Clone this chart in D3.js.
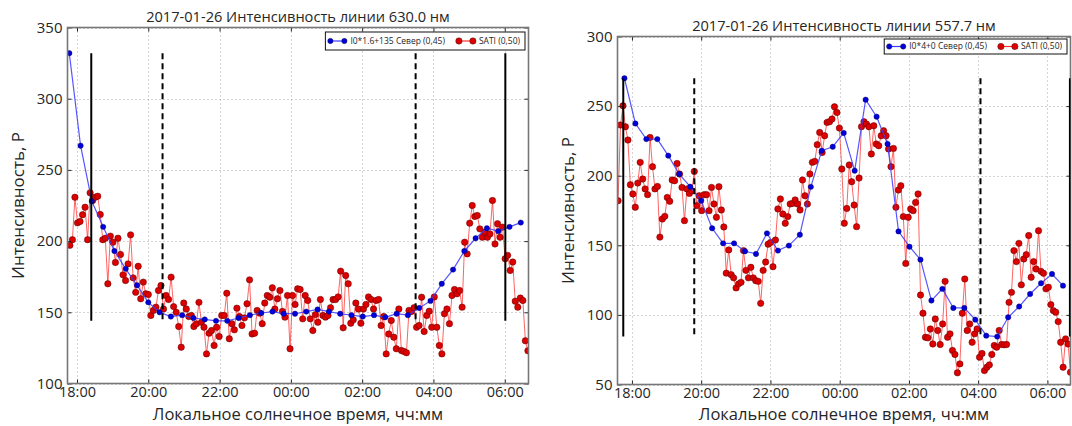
<!DOCTYPE html>
<html>
<head>
<meta charset="utf-8">
<script src="https://cdn.jsdelivr.net/npm/d3@7"></script>
<style>
  body { margin: 0; background: #fff; }
  svg { display: block; }
  text { font-family: "Open Sans", sans-serif; fill: #262626; }
</style>
</head>
<body>
<svg id="chart" width="1072" height="426"></svg>
<script>
// ---- data ----------------------------------------------------------
const chartDate = "2017-01-26";
const xTickLabels = ["18:00", "20:00", "22:00", "00:00", "02:00", "04:00", "06:00"];
const yTicks630 = [100, 150, 200, 250, 300, 350];
const yTicks557 = [50, 100, 150, 200, 250, 300];

// camera (north, zenith 0,45) samples: first time and cadence in minutes
const cameraStart = "17:47";
const cameraStepMin = 19;
const camera630 = [332, 267, 228, 210, 193, 180.5, 169, 157, 150, 147, 148, 146, 145, 144, 144,
  146, 148, 149.5, 150.5, 149, 149, 150.5, 152, 150.5, 149, 148, 147, 148, 146.5, 149, 148,
  153, 158, 170, 180, 193, 202, 209, 207, 210, 213];
const camera557 = [270, 237.5, 226.3, 226.3, 214.4, 201.2, 192.1, 182, 162.2, 151.4, 151.4,
  145.7, 143.8, 158.6, 146.2, 149.8, 157.6, 192, 218, 220.8, 230.7, 203.6, 254.6, 242.4,
  222.8, 160, 149, 139.7, 110.3, 118.7, 105, 105, 96.6, 85.1, 84.4, 98.3, 106, 115, 122.7,
  129.4, 121];

// SATI (0,50) samples, evenly spaced between first and last time
const sati630First = "17:48", sati630Last = "06:39";
const sati630 = [197, 201, 230.8, 212.8, 213.8, 218.5, 223.8, 201, 233.9, 228.5,
  230.8, 231.5, 218.7, 201, 202, 170, 203.5, 199.2, 185, 202,
  190.6, 176.3, 172.3, 184, 204.4, 174.2, 164, 182.3, 159.5, 171.2,
  163, 162.5, 147.8, 151.3, 153.6, 165.3, 168.8, 152.3, 161.8, 159,
  174.7, 154, 150, 140, 125.5, 156.5, 152.3, 147, 147.8, 140,
  141.9, 157, 143, 139.5, 120.8, 135.3, 137.2, 126.7, 139.5, 133,
  147.8, 147.8, 163.4, 131.4, 142, 137.7, 152.9, 147, 140.7, 146.1,
  156, 172.8, 134.8, 135.3, 151.3, 149.4, 142, 156.5, 161.8, 160.6,
  167.2, 152.3, 159.5, 165.3, 150.6, 146.6, 161.8, 124.4, 161.8, 155.5,
  166.5,
  166, 145.4, 161.8, 158.3, 145.4, 137.2, 148.4, 143, 159, 147.8,
  146.6, 147.8, 153.2, 159, 159, 160.8, 178.9, 139.1, 175.8, 170,
  142.3, 144.7, 156.5, 152.3, 142.3, 152.3, 155.5, 160.8, 159, 152.3,
  158.3, 159, 140.7, 147, 120.8, 134.8, 144.2, 132.5, 124.4, 152.3,
  123.2, 122.5, 121.6, 151.3, 150.6, 153.2, 139.5, 140.7, 160.6, 136.5,
  147.8, 150.8, 139.5, 160.8, 139.5, 126.7, 120.8, 149, 152.3, 142,
  161.8, 166, 163, 165.3, 153.6, 199.2, 191, 212.6, 225, 217.3,
  218, 208.6, 202.7, 206.2, 202.7, 205, 228.5, 198, 212.2, 202.7,
  209.8, 187.6, 190, 179.4, 185.3, 157.8, 153.6, 160, 158.3, 130,
  123];

const sati557First = "17:36", sati557Last = "06:40";
const sati557 = [182, 236.4, 250.2, 235.2, 225.6, 193.5, 186.9, 177.3, 194.7, 209.6,
  197.6, 190.5, 186.4, 227.5, 206.5, 190.5, 192.3, 155.9, 168.9, 170.8,
  184.4, 181.6, 196.9, 196.4, 208.8, 201.2, 191.6, 167.7, 190.5, 187.3,
  189.2, 203.1, 178.5, 185.6, 174.9, 186.4, 186.4, 174.9, 191.6, 179.7,
  170.1, 192.1, 175.4, 163.2, 130, 146.7, 128.9, 126.6, 119.4, 122.3,
  123.4, 146.2, 132, 126.6, 134.2, 126.6, 124.6, 124.1, 108.3, 132,
  138, 150.8, 152, 134.6, 153.8, 176.1, 183.3, 172.5, 165.8, 170.6,
  179.7, 180.1, 182.6, 179.7, 175.4, 196.9, 185.6, 179.7, 201.2, 209.6,
  210.3, 222.3, 231.1, 216.7, 228.7, 238.3, 238.8, 240.7, 249.5, 245.4,
  234.2, 204.8, 165.8, 176.5, 207.7, 195.7, 178.9, 163.4, 198.3, 235.2,
  238.8, 237.1, 235.2, 215.6, 235.9, 222.8, 221.5, 228.7, 232.3, 228.7,
  219.2, 206.5, 219.6, 177.3, 189.7, 192.8, 170.6, 137, 170.1, 176.1,
  174.9, 180.8, 186.9, 114.3, 101.2, 83.9, 83.5, 89.9, 79.1, 97.1,
  88.8, 78.7, 93.5, 124.1, 83.9, 86.4, 74.4, 71.6, 58.4, 64.8,
  101.2, 125.8, 88.8, 93.5, 80.3, 86.4, 89.9, 69.6, 72.3, 60,
  62.4, 64.1, 71.6, 78, 76.8, 88.8, 78.7, 78.5, 78.7, 109,
  116.2, 146.2, 138.3, 151.4, 121.6, 140.2, 143.3, 157, 127, 138.3,
  133, 160.5, 131.3, 129.9, 118.7, 119.9, 107.4, 103.1, 101.9, 95.2,
  80.3, 62.4, 82.8, 79.1, 58.8];

// twilight markers: solid = sunset/sunrise, dashed = end/start of astronomical twilight
const solid630 = ["18:24", "06:01"], dashed630 = ["20:24", "03:30"];
const solid557 = ["17:45", "06:39"], dashed557 = ["19:48", "04:04"];

// ---- helpers -------------------------------------------------------
const [yy, mm, dd] = chartDate.split("-").map(Number);
function clock(s) {
  const [h, m] = s.split(":").map(Number);
  // evening hours belong to the chart date, morning hours to the next day
  return new Date(yy, mm - 1, h < 12 ? dd + 1 : dd, h, m);
}
function evenTimes(first, last, n) {
  const a = +clock(first), b = +clock(last);
  return d3.range(n).map(i => new Date(a + (b - a) * i / (n - 1)));
}
function stepTimes(first, stepMin, n) {
  const a = +clock(first);
  return d3.range(n).map(i => new Date(a + i * stepMin * 60000));
}

const panels = [
  {
    title: chartDate + " Интенсивность линии 630.0 нм",
    cameraLabel: "I0*1.6+135 Север (0,45)",
    camera: camera630, sati: sati630, satiFirst: sati630First, satiLast: sati630Last,
    xFrom: "17:44", xTo: "06:40", yDomain: [100, 350], yTicks: yTicks630,
    solid: solid630, dashed: dashed630,
    box: { left: 67.5, right: 528.5, top: 27.5, bottom: 383.5 },
    legend: { right: 525, top: 32, height: 18 }
  },
  {
    title: chartDate + " Интенсивность линии 557.7 нм",
    cameraLabel: "I0*4+0 Север (0,45)",
    camera: camera557, sati: sati557, satiFirst: sati557First, satiLast: sati557Last,
    xFrom: "17:35", xTo: "06:40", yDomain: [50, 300], yTicks: yTicks557,
    solid: solid557, dashed: dashed557,
    box: { left: 617.5, right: 1070.5, top: 36.5, bottom: 384.5 },
    legend: { right: 1067, top: 39, height: 15 }
  }
];

const svg = d3.select("#chart");
const fmt = d3.timeFormat("%H:%M");

panels.forEach(p => {
  const b = p.box;
  const x = d3.scaleTime().domain([clock(p.xFrom), clock(p.xTo)]).range([b.left, b.right]);
  const y = d3.scaleLinear().domain(p.yDomain).range([b.bottom, b.top]);
  const xTicks = xTickLabels.map(clock);
  const g = svg.append("g");

  // dotted grid
  const grid = g.append("g").attr("stroke", "#a8a8a8").attr("stroke-width", 1)
    .attr("stroke-dasharray", "1,3");
  grid.selectAll(".gx").data(xTicks).join("line")
    .attr("x1", d => Math.round(x(d)) + 0.5).attr("x2", d => Math.round(x(d)) + 0.5)
    .attr("y1", b.top).attr("y2", b.bottom);
  grid.selectAll(".gy").data(p.yTicks).join("line")
    .attr("x1", b.left).attr("x2", b.right)
    .attr("y1", d => Math.round(y(d)) + 0.5).attr("y2", d => Math.round(y(d)) + 0.5);

  const clipId = "clip" + p.yDomain[0];
  svg.append("clipPath").attr("id", clipId).append("rect")
    .attr("x", b.left).attr("y", b.top).attr("width", b.right - b.left).attr("height", b.bottom - b.top);
  const plot = g.append("g").attr("clip-path", `url(#${clipId})`);

  // SATI series
  const satiPts = evenTimes(p.satiFirst, p.satiLast, p.sati.length).map((t, i) => [t, p.sati[i]]);
  const line = d3.line().x(d => x(d[0])).y(d => y(d[1]));
  plot.append("path").datum(satiPts).attr("d", line)
    .attr("fill", "none").attr("stroke", "#ff3030").attr("stroke-opacity", 0.75).attr("stroke-width", 1);
  plot.selectAll(".rs").data(satiPts).join("circle")
    .attr("cx", d => x(d[0])).attr("cy", d => y(d[1])).attr("r", 3.2)
    .attr("fill", "#dd0000").attr("stroke", "#5a0000").attr("stroke-width", 0.5);

  // camera series
  const camPts = stepTimes(cameraStart, cameraStepMin, p.camera.length).map((t, i) => [t, p.camera[i]]);
  plot.append("path").datum(camPts).attr("d", line)
    .attr("fill", "none").attr("stroke", "#3a3aff").attr("stroke-opacity", 0.85).attr("stroke-width", 1.2);
  plot.selectAll(".bs").data(camPts).join("circle")
    .attr("cx", d => x(d[0])).attr("cy", d => y(d[1])).attr("r", 2.7)
    .attr("fill", "#0000dd").attr("stroke", "#000050").attr("stroke-width", 0.4);

  // axes with inward ticks on all four sides
  const tk = 4;
  const axB = g.append("g").attr("transform", `translate(0,${b.bottom})`)
    .call(d3.axisBottom(x).tickValues(xTicks).tickFormat(fmt).tickSizeInner(-tk).tickSizeOuter(0).tickPadding(3));
  const axT = g.append("g").attr("transform", `translate(0,${b.top})`)
    .call(d3.axisTop(x).tickValues(xTicks).tickFormat("").tickSizeInner(-tk).tickSizeOuter(0));
  const axL = g.append("g").attr("transform", `translate(${b.left},0)`)
    .call(d3.axisLeft(y).tickValues(p.yTicks).tickFormat(d3.format("d")).tickSizeInner(-tk).tickSizeOuter(0).tickPadding(5));
  const axR = g.append("g").attr("transform", `translate(${b.right},0)`)
    .call(d3.axisRight(y).tickValues(p.yTicks).tickFormat("").tickSizeInner(-tk).tickSizeOuter(0));
  [axB, axT, axL, axR].forEach(a => {
    a.select(".domain").remove();
    a.selectAll(".tick line").attr("stroke", "#222").attr("stroke-width", 1);
  });
  axB.selectAll("text").attr("font-size", 14.5).style("font-family", "Open Sans").attr("fill", "#262626");
  axL.selectAll("text").attr("font-size", 15).style("font-family", "Open Sans").attr("fill", "#262626");

  // frame
  g.append("rect").attr("x", b.left).attr("y", b.top)
    .attr("width", b.right - b.left).attr("height", b.bottom - b.top)
    .attr("fill", "none").attr("stroke", "#777").attr("stroke-width", 1.6);

  // twilight lines span the camera series range, drawn above the frame
  const [cMin, cMax] = d3.extent(p.camera);
  const vl = g.append("g").attr("clip-path", `url(#${clipId})`);
  vl.selectAll(".vs").data(p.solid).join("line")
    .attr("x1", d => x(clock(d))).attr("x2", d => x(clock(d)))
    .attr("y1", y(cMax)).attr("y2", y(cMin))
    .attr("stroke", "#000").attr("stroke-width", 2);
  vl.selectAll(".vd").data(p.dashed).join("line")
    .attr("x1", d => x(clock(d))).attr("x2", d => x(clock(d)))
    .attr("y1", y(cMax)).attr("y2", y(cMin))
    .attr("stroke", "#000").attr("stroke-width", 2).attr("stroke-dasharray", "6,4");

  // titles and axis labels
  const cx = (b.left + b.right) / 2;
  g.append("text").attr("x", cx).attr("y", b.top - 6).attr("text-anchor", "middle")
    .attr("font-size", 14.6).text(p.title);
  g.append("text").attr("x", cx).attr("y", 420).attr("text-anchor", "middle")
    .attr("font-size", 16.5).text("Локальное солнечное время, чч:мм");
  g.append("text").attr("transform", `translate(${b.left - 44},${(b.top + b.bottom) / 2}) rotate(-90)`)
    .attr("text-anchor", "middle").attr("font-size", 17).text("Интенсивность, Р");

  // legend
  const L = p.legend;
  const lg = g.append("g");
  const fs = 8.5;
  const entries = [
    { label: p.cameraLabel, fill: "#0000dd", stroke: "#3a3aff", r: 2.7 },
    { label: "SATI (0,50)", fill: "#dd0000", stroke: "#ff3030", r: 3.2 }
  ];
  const tmp = lg.append("text").attr("font-size", fs);
  const widths = entries.map(e => { tmp.text(e.label); return tmp.node().getComputedTextLength(); });
  tmp.remove();
  const pad = 5, seg = 14, gap = 6, colGap = 14;
  const totalW = pad + seg + gap + widths[0] + colGap + seg + gap + widths[1] + pad;
  const lx = L.right - totalW, ly = L.top;
  lg.append("rect").attr("x", lx).attr("y", ly).attr("width", totalW).attr("height", L.height)
    .attr("fill", "#fff").attr("stroke", "#111").attr("stroke-width", 1);
  let cxp = lx + pad;
  const my = ly + L.height / 2;
  entries.forEach((e, i) => {
    lg.append("line").attr("x1", cxp).attr("x2", cxp + seg).attr("y1", my).attr("y2", my)
      .attr("stroke", e.stroke).attr("stroke-width", 1.2);
    [cxp, cxp + seg].forEach(px => lg.append("circle").attr("cx", px).attr("cy", my).attr("r", e.r)
      .attr("fill", e.fill).attr("stroke", "#222").attr("stroke-width", 0.4));
    lg.append("text").attr("x", cxp + seg + gap).attr("y", my).attr("dy", "0.35em")
      .attr("font-size", fs).text(e.label);
    cxp += seg + gap + widths[i] + colGap;
  });
});
</script>
</body>
</html>
